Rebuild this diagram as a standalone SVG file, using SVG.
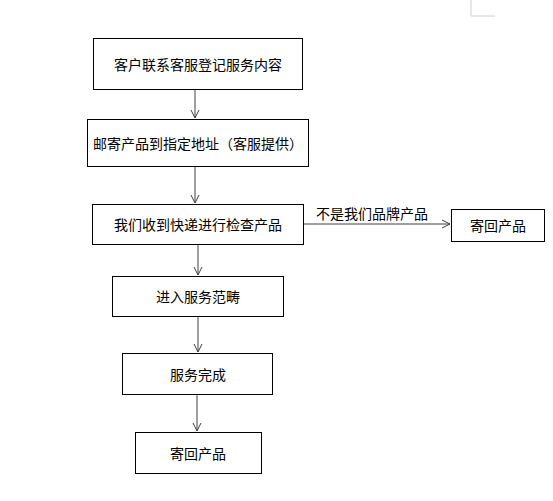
<svg xmlns="http://www.w3.org/2000/svg" width="553" height="501" viewBox="0 0 553 501">
<style>
.box{fill:#fff;stroke:#000;stroke-width:1}
.t{font-family:"Noto Sans CJK SC","Noto Sans",sans-serif;font-size:14px;fill:#000;text-anchor:middle;dominant-baseline:central}
.c{stroke:#404040;stroke-width:1;fill:none}
</style>
<defs>
<marker id="ah" markerWidth="10" markerHeight="10" refX="9" refY="5" orient="auto" markerUnits="userSpaceOnUse">
<path d="M1,1 L9,5 L1,9" fill="none" stroke="#404040" stroke-width="1"/>
</marker>
</defs>
<rect width="553" height="501" fill="#fff"/>
<polyline points="471,0 471,16 495,16" fill="none" stroke="#d0d0d0" stroke-width="1"/>
<g id="connectors">
<line class="c" x1="195" y1="89" x2="195" y2="118" marker-end="url(#ah)"/>
<line class="c" x1="195" y1="166" x2="195" y2="203" marker-end="url(#ah)"/>
<line class="c" x1="304" y1="224" x2="450" y2="224" marker-end="url(#ah)"/>
<text class="t" x="372" y="213">不是我们品牌产品</text>
<line class="c" x1="198" y1="244" x2="198" y2="275" marker-end="url(#ah)"/>
<line class="c" x1="198" y1="316" x2="198" y2="352" marker-end="url(#ah)"/>
<line class="c" x1="197" y1="394" x2="197" y2="431" marker-end="url(#ah)"/>
</g>
<g id="n1"><rect class="box" x="93.5" y="38.5" width="209" height="51"/><text class="t" x="198" y="64">客户联系客服登记服务内容</text></g>
<g id="n2"><rect class="box" x="87.5" y="119.5" width="221" height="47"/><text class="t" x="198" y="143">邮寄产品到指定地址（客服提供）</text></g>
<g id="n3"><rect class="box" x="92.5" y="204.5" width="211" height="40"/><text class="t" x="198" y="224">我们收到快递进行检查产品</text></g>
<g id="n4"><rect class="box" x="451.5" y="209.5" width="93" height="32"/><text class="t" x="498" y="225">寄回产品</text></g>
<g id="n5"><rect class="box" x="112.5" y="276.5" width="171" height="40"/><text class="t" x="198" y="296">进入服务范畴</text></g>
<g id="n6"><rect class="box" x="122.5" y="353.5" width="150" height="41"/><text class="t" x="198" y="374">服务完成</text></g>
<g id="n7"><rect class="box" x="135.5" y="432.5" width="126" height="41"/><text class="t" x="198" y="453">寄回产品</text></g>
</svg>
